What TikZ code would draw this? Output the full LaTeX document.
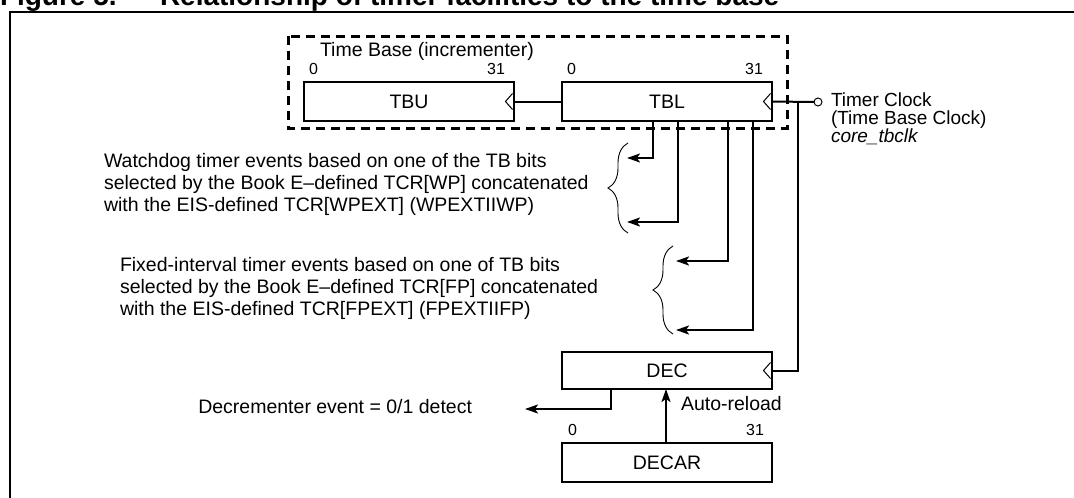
\documentclass[tikz,border=0pt]{standalone}
\usepackage{fontspec}
\setmainfont{Liberation Sans}
\usetikzlibrary{arrows.meta,calc,decorations.pathreplacing}
\begin{document}
\begin{tikzpicture}[x=1pt,y=-1pt,
  every node/.style={inner sep=0pt, outer sep=0pt},
  body/.style={font=\fontsize{19.5}{22}\selectfont},
  reg/.style={draw, line width=2.4pt, minimum width=210pt, minimum height=39pt, anchor=north west, body},
  wire/.style={line width=2pt},
  arr/.style={wire, -{Stealth[length=13pt,width=9pt,inset=3pt]}},
  clk/.style={line width=1pt},
  brc/.style={line width=0.9pt, decorate, decoration={brace, amplitude=20pt}},
  lbl/.style={body, align=left},
  bit/.style={font=\fontsize{16}{18}\selectfont}]
\useasboundingbox (0,0) rectangle (1074,498);
% title and frame
\node[anchor=base west, font=\bfseries\fontsize{28}{30}\selectfont] (fig) at (0,5) {Figure 5.};
\node[anchor=base west, font=\bfseries\fontsize{28}{30}\selectfont] (title) at (160,5) {Relationship of timer facilities to the time base};
\draw[line width=2.2pt] (1074,12) -- (10,12) -- (10,498);
% time base
\draw[line width=3pt, dash pattern=on 9pt off 6pt] (288,36) rectangle (787,128);
\node[body, anchor=west] (tbtxt) at (320,51) {Time Base (incrementer)};
\node[reg] (tbu) at (304,82) {TBU};
\node[reg] (tbl) at (562,82) {TBL};
\node[bit, anchor=west] (tbu0) at (309,69) {0};
\node[bit, anchor=east] (tbu31) at (505,69) {31};
\node[bit, anchor=west] (tbl0) at (567,69) {0};
\node[bit, anchor=east] (tbl31) at (763,69) {31};
\draw[clk] ($(tbu.east)+(-1.5,-8)$) -- ++(-7,8) -- ++(7,8);
\draw[clk] ($(tbl.east)+(-1.5,-8)$) -- ++(-7,8) -- ++(7,8);
\draw[wire] (tbu.east) -- (tbl.west);
% clock
\node[draw, circle, minimum size=8pt, line width=1pt] (clkin) at (818,102) {};
\node[anchor=west, align=left, font=\fontsize{19}{17.5}\selectfont] (clktxt) at (831,119) {Timer Clock\\(Time Base Clock)\\\textit{core\_tbclk}};
\draw[wire] (tbl.east) -- (clkin.west);
\coordinate (tap) at (798,102);
% DEC and DECAR
\node[reg, minimum height=37pt] (dec) at (562,352) {DEC};
\node[reg] (decar) at (562,443) {DECAR};
\draw[clk] ($(dec.east)+(-1.5,-8)$) -- ++(-7,8) -- ++(7,8);
\draw[wire] (tap) |- (dec.east);
\node[bit, anchor=west] (dc0) at (568,430) {0};
\node[bit, anchor=east] (dc31) at (764,430) {31};
\draw[arr] (666,0 |- decar.north) -- (666,0 |- dec.south);
\node[body, anchor=west] (auto) at (681,404) {Auto-reload};
\coordinate (devt) at (525,409);
\draw[arr] (611,0 |- dec.south) |- (devt);
\node[body, anchor=east] (dtxt) at (472,407) {Decrementer event = 0/1 detect};
% watchdog
\coordinate (w1) at (627,158);
\coordinate (w2) at (627,222);
\draw[arr] (653,0 |- tbl.south) |- (w1);
\draw[arr] (678,0 |- tbl.south) |- (w2);
\draw[brc] (628,233) -- (628,143);
\node[lbl, anchor=west] (wd) at (104,184) {Watchdog timer events based on one of the TB bits\\selected by the Book E–defined TCR[WP] concatenated\\with the EIS-defined TCR[WPEXT] (WPEXTIIWP)};
% fixed interval
\coordinate (f1) at (676,261);
\coordinate (f2) at (676,330);
\draw[arr] (728,0 |- tbl.south) |- (f1);
\draw[arr] (753,0 |- tbl.south) |- (f2);
\draw[brc] (673,334) -- (673,246);
\node[lbl, anchor=west] (fi) at (120,288) {Fixed-interval timer events based on one of TB bits\\selected by the Book E–defined TCR[FP] concatenated\\with the EIS-defined TCR[FPEXT] (FPEXTIIFP)};
\end{tikzpicture}
\end{document}
